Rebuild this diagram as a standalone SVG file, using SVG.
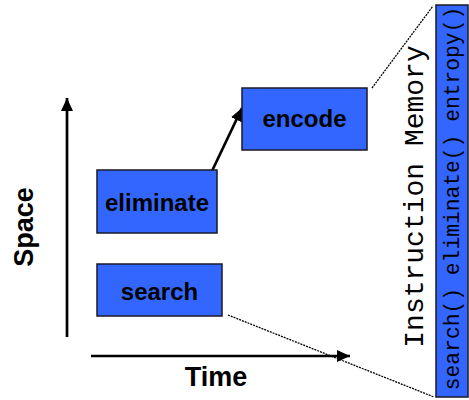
<svg xmlns="http://www.w3.org/2000/svg" width="469" height="400" viewBox="0 0 469 400">
  <style>
    .box { fill: #3366ff; stroke: #1a1a2a; stroke-width: 1.5; }
    .lbl { font-family: "Liberation Sans", Arial, sans-serif; font-weight: bold; font-size: 24px; fill: #000; text-anchor: middle; }
    .axlbl { font-size: 27px; }
    .mono { font-family: "Liberation Mono", "Courier New", monospace; fill: #000; text-anchor: middle; }
    .axis { stroke: #000; stroke-width: 2.7; fill: none; }
    .dots { stroke: #000; stroke-width: 1.3; stroke-dasharray: 2 1; fill: none; }
  </style>
  <defs>
    <marker id="head" markerUnits="userSpaceOnUse" markerWidth="14" markerHeight="12" refX="13" refY="6" orient="auto">
      <path d="M0,0 L13,6 L0,12 Z" fill="#000"/>
    </marker>
  </defs>

  <rect width="469" height="400" fill="#fff"/>

  <!-- axes -->
  <g id="axes">
    <line class="axis" x1="67" y1="337" x2="67" y2="98" marker-end="url(#head)"/>
    <line class="axis" x1="91" y1="356" x2="350" y2="356" marker-end="url(#head)"/>
    <text class="lbl axlbl" transform="translate(33,227) rotate(-90)">Space</text>
    <text class="lbl axlbl" x="216" y="386">Time</text>
  </g>

  <!-- connectors -->
  <g id="connectors">
    <line class="axis" x1="212" y1="171" x2="242" y2="108" marker-end="url(#head)"/>
    <line class="dots" x1="372" y1="88" x2="433" y2="6"/>
    <line class="dots" x1="228" y1="315" x2="434" y2="397"/>
  </g>

  <g id="search">
    <rect class="box" x="97" y="264" width="125" height="52"/>
    <text class="lbl" x="159.5" y="300">search</text>
  </g>

  <g id="eliminate">
    <rect class="box" x="97" y="170" width="120" height="63"/>
    <text class="lbl" x="157" y="211">eliminate</text>
  </g>

  <g id="encode">
    <rect class="box" x="242" y="88" width="125" height="62"/>
    <text class="lbl" x="304.5" y="127">encode</text>
  </g>

  <g id="instruction-memory">
    <text class="mono" font-size="28" transform="translate(423,196.5) rotate(-90)">Instruction Memory</text>
    <rect class="box" x="436" y="5" width="32" height="392"/>
    <text class="mono" font-size="21.3" transform="translate(459,198.5) rotate(-90)">search() eliminate() entropy()</text>
  </g>
</svg>
